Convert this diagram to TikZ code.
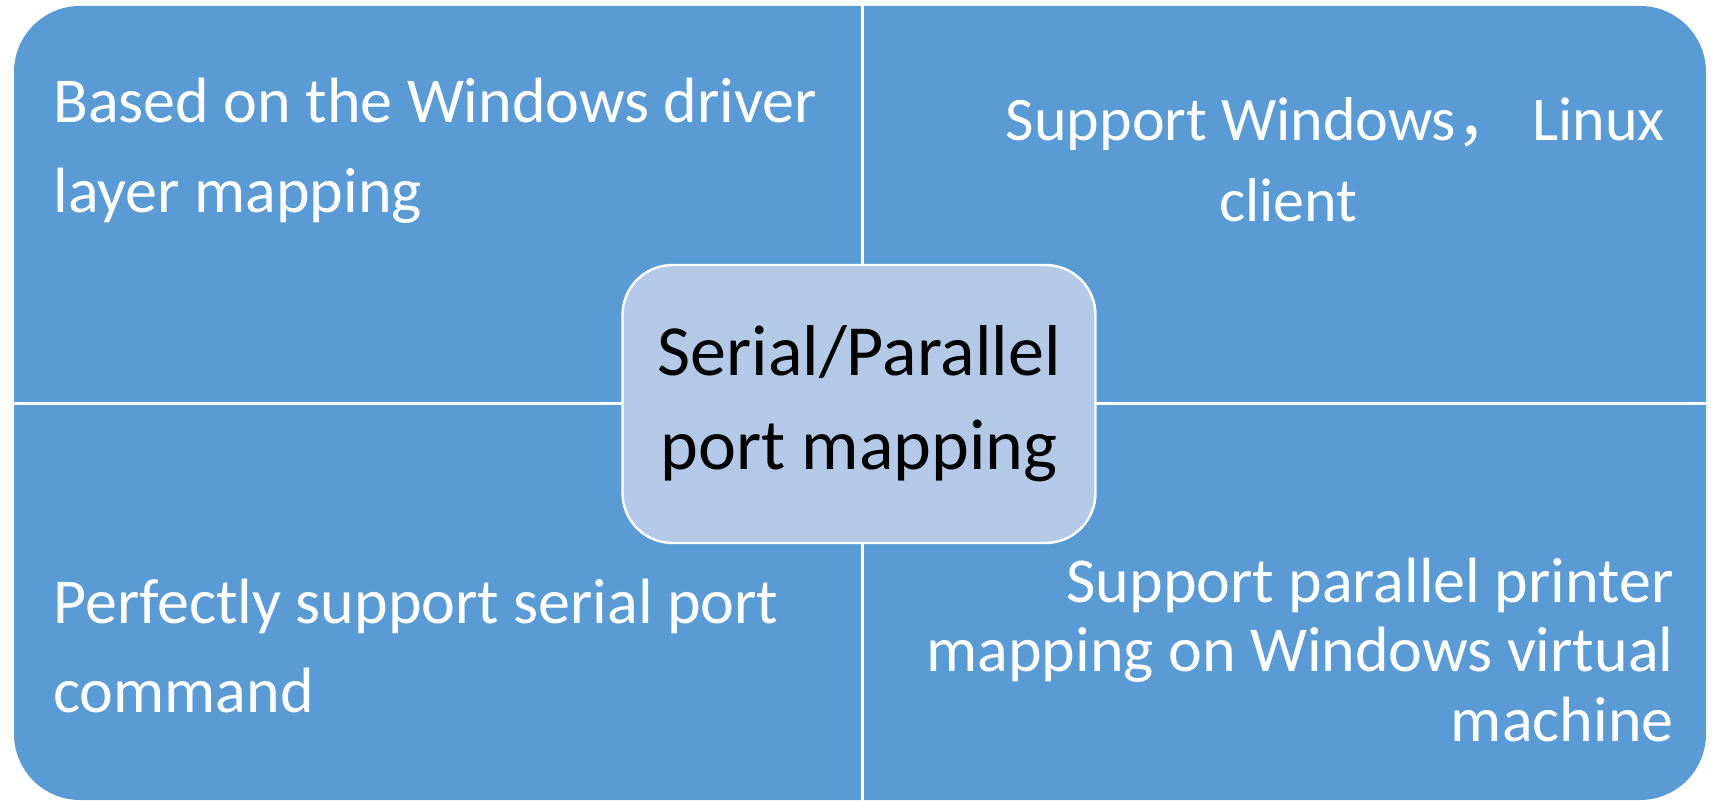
\documentclass[tikz,border=0pt]{standalone}
\usepackage{fontspec}
\setmainfont{Carlito}
\newfontfamily\cjk{Noto Sans CJK SC}
\definecolor{quadblue}{HTML}{5B9BD5}
\definecolor{centerfill}{HTML}{B4C9E7}
\begin{document}
\begin{tikzpicture}[x=0.5pt,y=-0.5pt,
  quadtext/.style={inner sep=0pt, text=white},
  divider/.style={draw=white, line width=1.5pt}]
\useasboundingbox (0,0) rectangle (1712,801);
\path[fill=quadblue, rounded corners=33pt] (14,6) rectangle (1706,800);
\coordinate (vt) at (862,0);
\coordinate (vb) at (862,801);
\coordinate (hl) at (0,404);
\coordinate (hr) at (1712,404);
\draw[divider] (vt) -- (vb);
\draw[divider] (hl) -- (hr);
\node[draw=white, line width=1.2pt, fill=centerfill, rounded corners=25pt,
      minimum width=236.5pt, minimum height=139pt, align=center,
      font=\fontsize{36pt}{47pt}\selectfont] (center) at (859,404)
      {Serial/Parallel\\port mapping};
\node[quadtext, anchor=base west, align=left, font=\fontsize{32pt}{45pt}\selectfont] (tl) at (53,213)
  {Based on the Windows driver\\layer mapping};
\node[quadtext, anchor=base east, align=center, font=\fontsize{31pt}{40.5pt}\selectfont] (tr) at (1665,222)
  {Support Windows{\cjk ，} Linux\\client\hspace*{47pt}};
\node[quadtext, anchor=base west, align=left, font=\fontsize{32pt}{44.5pt}\selectfont] (bl) at (53,712)
  {Perfectly support serial port\\command};
\node[quadtext, anchor=base east, align=right, font=\fontsize{32pt}{34.75pt}\selectfont] (br) at (1674,741)
  {Support parallel printer\\mapping on Windows virtual\\machine};
\end{tikzpicture}
\end{document}
